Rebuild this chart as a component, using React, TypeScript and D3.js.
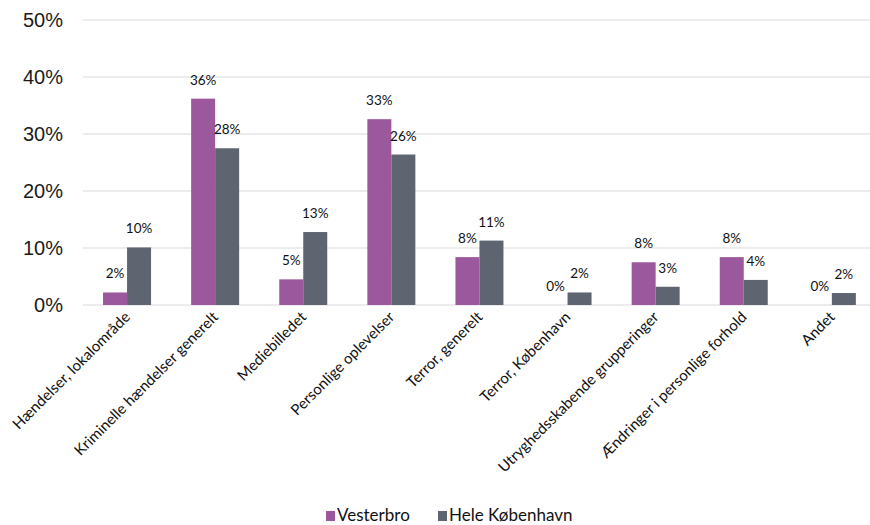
import React from 'react';
import * as d3 from 'd3';

const categories = [
  'Hændelser, lokalområde',
  'Kriminelle hændelser generelt',
  'Mediebilledet',
  'Personlige oplevelser',
  'Terror, generelt',
  'Terror, København',
  'Utryghedsskabende grupperinger',
  'Ændringer i personlige forhold',
  'Andet',
];
const vesterbro = [2.2, 36.2, 4.5, 32.6, 8.4, 0, 7.5, 8.4, 0];
const heleKbh = [10.1, 27.5, 12.8, 26.4, 11.3, 2.2, 3.2, 4.4, 2.1];
const seriesNames = ['Vesterbro', 'Hele København'];
const colors = ['#9c589d', '#5e6570'];
const yTicks = [0, 10, 20, 30, 40, 50];

const W = 870;
const H = 525;
const left = 83;
const bandW = 88.1;
const y0 = 305;
const yTop = 20;
const labelFont = 'Lato, "Open Sans", sans-serif';

export default function App() {
  const x = d3
    .scaleBand<string>()
    .domain(categories)
    .range([left, left + bandW * categories.length]);
  const xs = d3
    .scaleBand<string>()
    .domain(seriesNames)
    .range([x.bandwidth() / 2 - 24, x.bandwidth() / 2 + 24]);
  const y = d3.scaleLinear().domain([0, 50]).range([y0, yTop]);

  const series = [vesterbro, heleKbh];

  return (
    <svg width={W} height={H} style={{ position: 'absolute', left: 0, top: 0, background: '#fff' }}>
      {/* grid */}
      {yTicks.map((t) => (
        <g key={t}>
          <line x1={left} x2={W} y1={y(t)} y2={y(t)} stroke="#e6e6e6" strokeWidth={1.5} />
          <text
            x={63}
            y={y(t)}
            dy="0.36em"
            textAnchor="end"
            fontFamily='"Liberation Sans", Arial, sans-serif'
            fontSize={20}
            fill="#1a1a1a"
          >
            {t}%
          </text>
        </g>
      ))}

      {/* bars + labels */}
      {categories.map((c, i) => (
        <g key={c} transform={`translate(${x(c)},0)`}>
          {series.map((vals, s) => {
            const v = vals[i];
            const bx = xs(seriesNames[s])!;
            return (
              <g key={s}>
                {v > 0 && (
                  <rect x={bx} y={y(v)} width={xs.bandwidth()} height={y0 - y(v)} fill={colors[s]} />
                )}
                <text
                  x={bx + xs.bandwidth() / 2}
                  y={y(v) - 14}
                  textAnchor="middle"
                  fontFamily={labelFont}
                  fontSize={13.5}
                  fill="#111"
                >
                  {Math.round(v)}%
                </text>
              </g>
            );
          })}
        </g>
      ))}

      {/* x labels */}
      {categories.map((c) => {
        const cx = x(c)! + x.bandwidth() / 2 + 4;
        return (
          <text
            key={c}
            transform={`translate(${cx},${y0 + 13}) rotate(-45)`}
            textAnchor="end"
            fontFamily={labelFont}
            fontSize={15}
            fill="#111"
          >
            {c}
          </text>
        );
      })}

      {/* legend */}
      {seriesNames.map((n, s) => {
        const lx = s === 0 ? 326 : 438;
        return (
          <g key={n}>
            <rect x={lx} y={511} width={9} height={10} fill={colors[s]} />
            <text x={lx + 11} y={521} fontFamily={labelFont} fontSize={17} fill="#111">
              {n}
            </text>
          </g>
        );
      })}
    </svg>
  );
}
